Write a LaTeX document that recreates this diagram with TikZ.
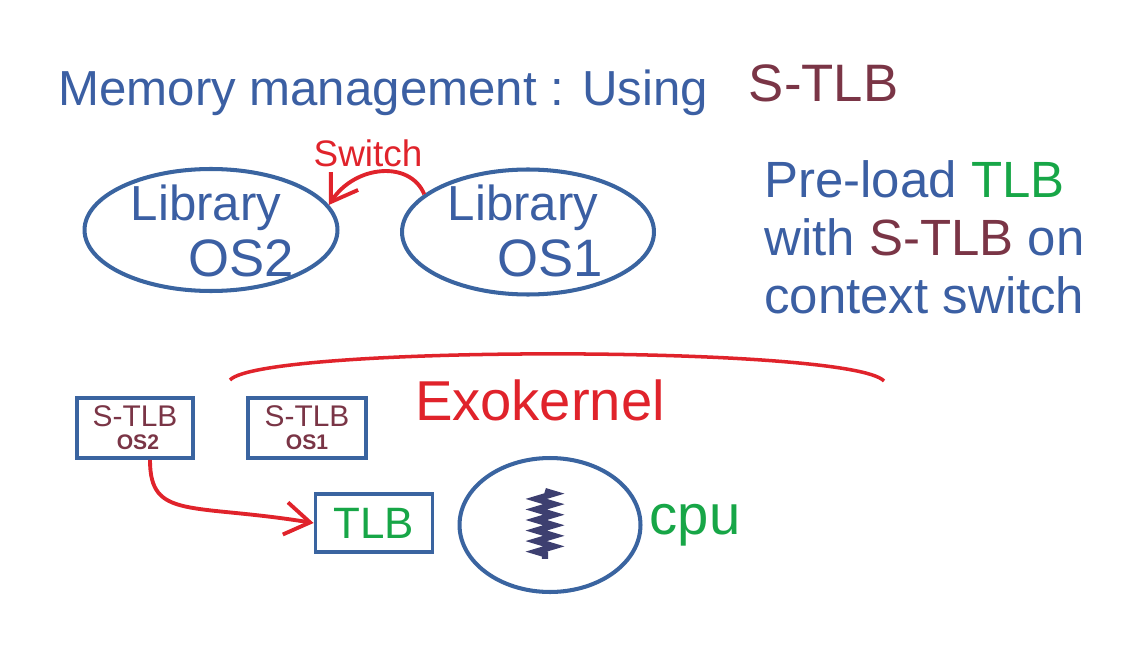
\documentclass[tikz,border=0pt]{standalone}
\usepackage{fontspec}
\setmainfont{Liberation Sans}
\usepackage{xcolor}
\usepackage{tikz}
\usetikzlibrary{arrows.meta,positioning,shapes.geometric,decorations.pathmorphing}
\definecolor{inkblu}{HTML}{3B5FA3}
\definecolor{edgeblu}{HTML}{3A64A0}
\definecolor{mar}{HTML}{7A3546}
\definecolor{inkred}{HTML}{E0232B}
\definecolor{inkgrn}{HTML}{17A647}
\definecolor{navy}{HTML}{3D3F70}

\begin{document}
\begin{tikzpicture}[x=0.02cm,y=-0.02cm,>={Straight Barb[length=5mm,width=6.5mm]},
  ring/.style={draw=edgeblu,line width=2.3pt,ellipse,inner sep=0pt},
  tbox/.style={draw=edgeblu,line width=2.2pt,minimum height=1.2cm,inner sep=0pt,align=center},
  hand/.style={inner sep=0pt,font=\fontsize{28}{33}\selectfont}]
\useasboundingbox (0,0) rectangle (1141,665);
\node[hand,text=inkblu,anchor=west] (title) at (58,93) {Memory management : Using};
\node[hand,text=mar,right=0.8cm of title,yshift=0.2cm,font=\fontsize{30}{36}\selectfont] (stlb) {S-TLB};
\node[ring,minimum width=5.06cm,minimum height=2.44cm] (os2) at (211,230) {};
\node[ring,minimum width=5.04cm,minimum height=2.5cm] (os1) at (528,232) {};
\node[hand,text=inkblu] (lib2) at ([xshift=-0.1cm,yshift=0.45cm]os2.center) {Library};
\node[hand,text=inkblu,font=\fontsize{30}{36}\selectfont] (name2) at ([xshift=0.6cm,yshift=-0.56cm]os2.center) {OS2};
\node[hand,text=inkblu] (lib1) at ([xshift=-0.1cm,yshift=0.49cm]os1.center) {Library};
\node[hand,text=inkblu,font=\fontsize{30}{36}\selectfont] (name1) at ([xshift=0.44cm,yshift=-0.52cm]os1.center) {OS1};
\node[hand,text=inkred,font=\fontsize{21}{25}\selectfont] (sw) at (368,153) {Switch};
\draw[inkred,line width=2.2pt,->] (os1.160) .. controls (410,160) and (355,165) .. (os2.12);
\node[hand,text=inkblu,align=left,anchor=north west,font=\fontsize{29}{33}\selectfont] (note) at (764,160)
  {Pre-load \textcolor{inkgrn}{TLB}\\with \textcolor{mar}{S-TLB} on\\context switch};
\coordinate (arcl) at (230,380);
\coordinate (arcr) at (884,381);
\draw[inkred,line width=2pt] (arcl) .. controls (262,345) and (850,345) .. (arcr);
\node[hand,text=inkred,font=\fontsize{32}{38}\selectfont] (exo) at (540,400) {Exokernel};
\node[tbox,minimum width=2.32cm,text=mar] (stlb2) at (135,428)
  {{\fontsize{17}{18}\selectfont S-TLB}\\[1pt]{\fontsize{12}{13}\selectfont\bfseries\ OS2}};
\node[tbox,minimum width=2.36cm,text=mar] (stlb1) at (307,428)
  {{\fontsize{17}{18}\selectfont S-TLB}\\[1pt]{\fontsize{12}{13}\selectfont\bfseries OS1}};
\node[tbox,minimum width=2.34cm,minimum height=1.16cm,text=inkgrn,font=\fontsize{25}{30}\selectfont] (tlb) at (374,523) {TLB};
\draw[inkred,line width=2.2pt,->] ([xshift=0.3cm]stlb2.south) .. controls (150,520) and (190,503) .. (tlb.west);
\node[ring,minimum width=3.62cm,minimum height=2.68cm] (cpu) at (550,525) {};
\draw[navy,line width=3.5pt,decorate,decoration={zigzag,segment length=6pt,amplitude=5pt}]
  ([xshift=-0.1cm,yshift=0.68cm]cpu.center) -- ([xshift=-0.1cm,yshift=-0.68cm]cpu.center);
\node[hand,text=inkgrn,right=0.14cm of cpu,font=\fontsize{32}{38}\selectfont] (cpulbl) {cpu};
\end{tikzpicture}
\end{document}
